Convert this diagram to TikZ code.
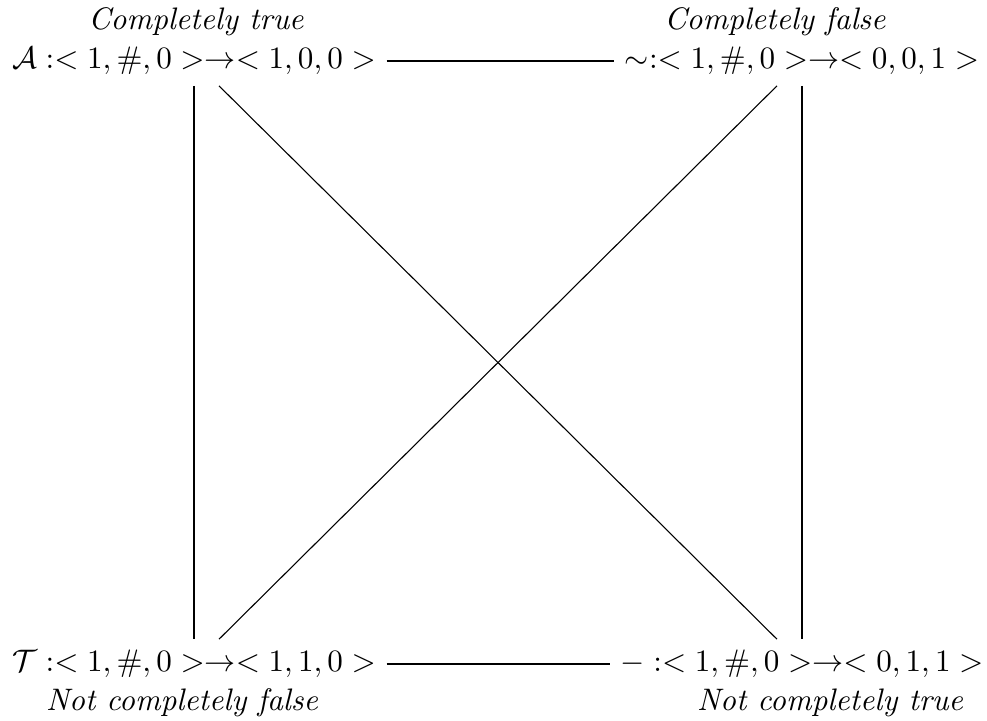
\documentclass[tikz,border=0pt]{standalone}
\usepackage{amsmath}
\begin{document}
\begin{tikzpicture}[x=0.3215pt,y=-0.3215pt,
  stmt/.style={inner sep=3.33pt},
  lab/.style={anchor=base,inner sep=0pt,font=\itshape},
  edge/.style={draw=black,line width=0.35pt}]
\useasboundingbox (0,0) rectangle (987,720);
\node[stmt] (A) at (194,61) {$\mathcal{A} :< 1, \#, 0 > \rightarrow < 1, 0, 0 >$};
\node[stmt] (N) at (802,61) {$\sim:< 1, \#, 0 > \rightarrow < 0, 0, 1 >$};
\node[stmt] (T) at (194,664) {$\mathcal{T} :< 1, \#, 0 > \rightarrow < 1, 1, 0 >$};
\node[stmt] (M) at (802,664) {$- :< 1, \#, 0 > \rightarrow < 0, 1, 1 >$};
\node[lab] (la) at (196,29) {Completely true};
\node[lab] (ln) at (775,29) {Completely false};
\node[lab] (lt) at (182,710) {Not completely false};
\node[lab] (lm) at (830,710) {Not completely true};
\draw[edge] (A) -- (N);
\draw[edge] (T) -- (M);
\draw[edge] (A) -- (T);
\draw[edge] (N) -- (M);
\draw[edge] (A) -- (M);
\draw[edge] (N) -- (T);
\end{tikzpicture}
\end{document}
